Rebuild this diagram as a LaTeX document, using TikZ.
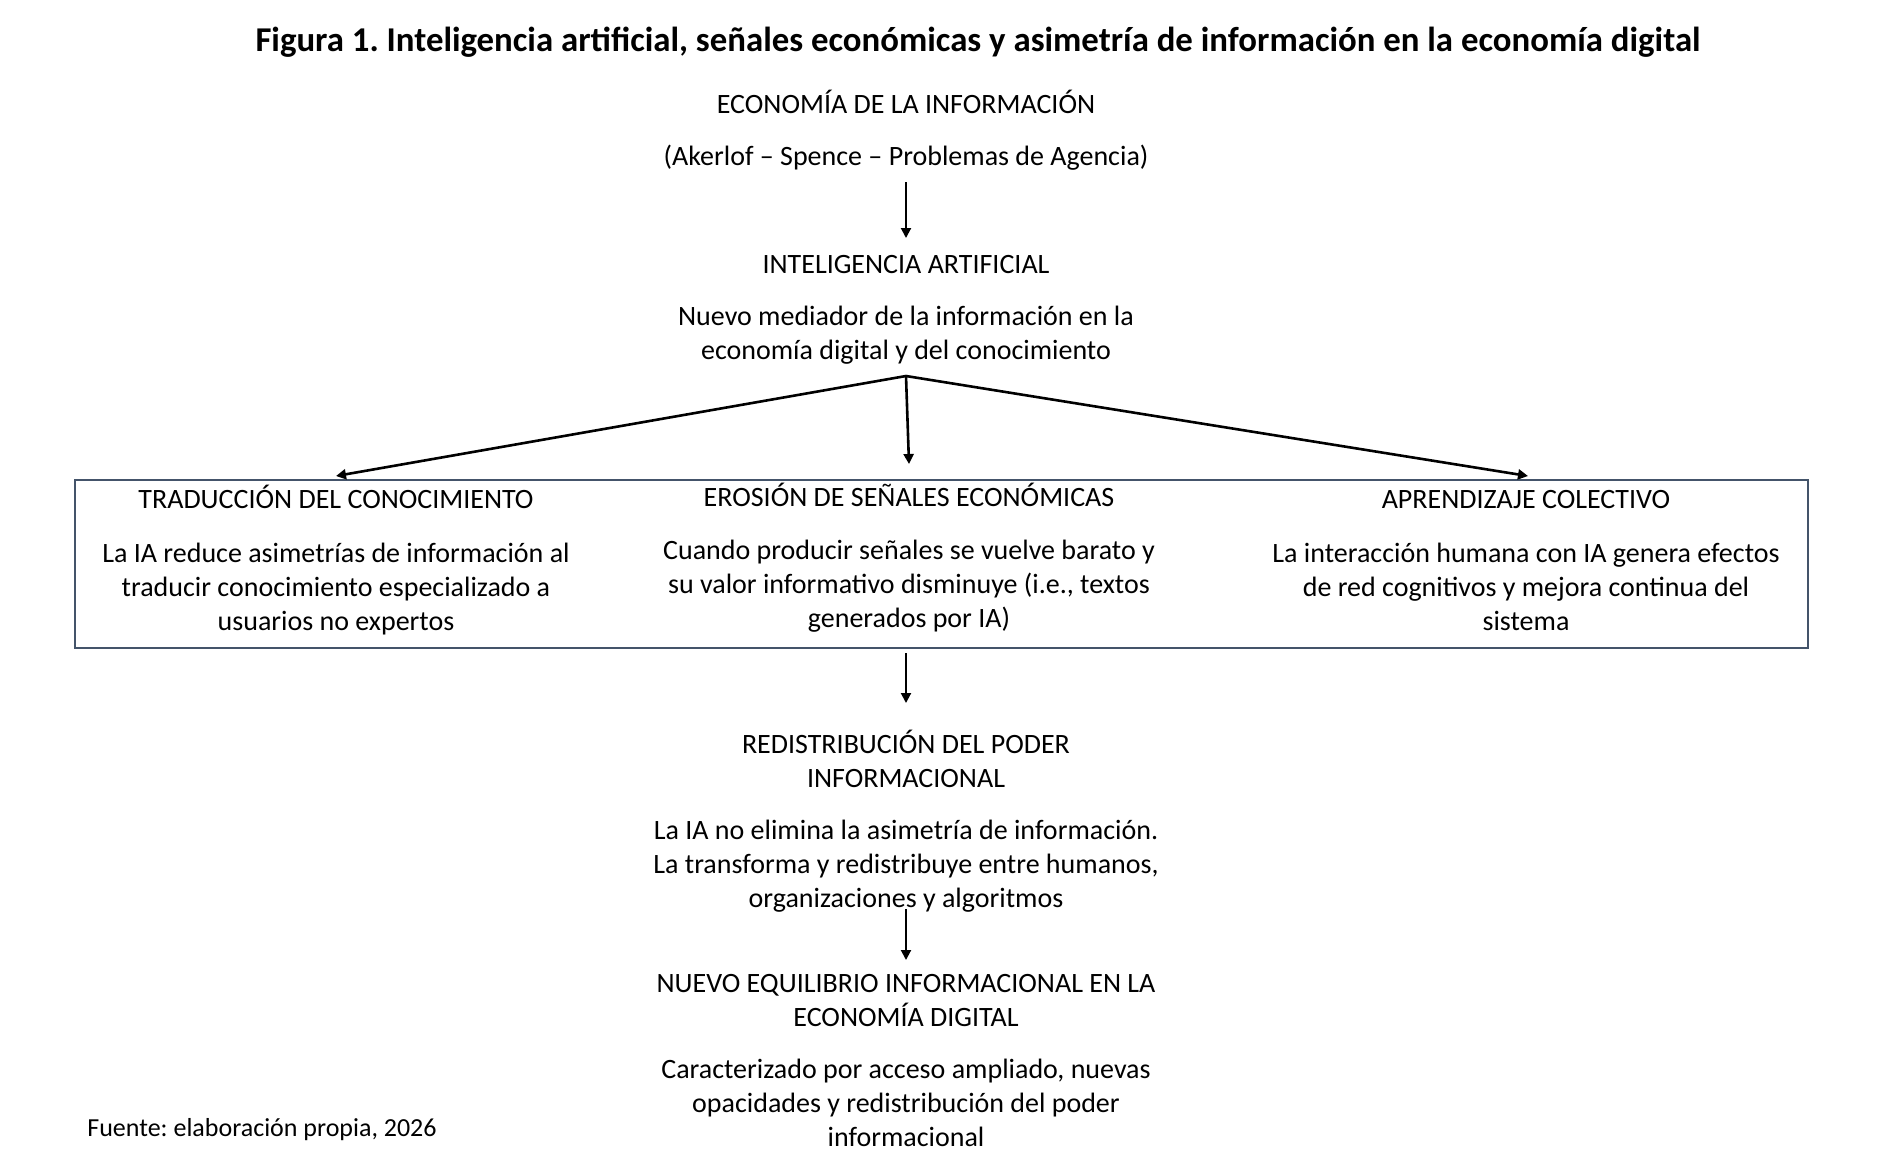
\documentclass[tikz,border=0pt]{standalone}
\usepackage{fontspec}
\setmainfont{Carlito}
\usepackage{tikz}
\usetikzlibrary{arrows.meta,positioning,calc}
\definecolor{PanelSlate}{HTML}{44546A}
\frenchspacing

\begin{document}
\begin{tikzpicture}[
  x=0.5pt, y=-0.5pt,
  txt/.style={inner sep=0pt, anchor=base, align=center, font=\fontsize{14}{17}\selectfont},
  panel/.style={draw=PanelSlate, line width=1pt, minimum width=866.5pt, minimum height=84pt, inner sep=0pt},
  flow/.style={-{Triangle[length=5pt,width=5pt]}, line width=1pt, black},
  fan/.style={flow, line width=1.3pt}
]
\useasboundingbox (0,0) rectangle (1900,1174);
\node[txt, font=\fontsize{17.4}{20}\selectfont\bfseries] (title) at (978,51) {Figura 1. Inteligencia artificial, señales económicas y asimetría de información en la economía digital};
\node[txt] (econ) at (906,113) {ECONOMÍA DE LA INFORMACIÓN};
\node[txt] (akerlof) at (906,165) {(Akerlof – Spence – Problemas de Agencia)};
\node[txt] (ia) at (906,273) {INTELIGENCIA ARTIFICIAL};
\node[txt] (mediador) at (906,359.5) {Nuevo mediador de la información en la\\economía digital y del conocimiento};
\coordinate (fork) at (906,376);
% recuadro con los tres efectos
\node[panel] (box) at (941.5,564) {};
\node[txt] (trad) at (336,508) {TRADUCCIÓN DEL CONOCIMIENTO};
\node[txt] (tradtxt) at (336,630) {La IA reduce asimetrías de información al\\traducir conocimiento especializado a\\usuarios no expertos};
\node[txt] (eros) at (909,506) {EROSIÓN DE SEÑALES ECONÓMICAS};
\node[txt] (erostxt) at (909,627) {Cuando producir señales se vuelve barato y\\su valor informativo disminuye (i.e., textos\\generados por IA)};
\node[txt] (apren) at (1526,508) {APRENDIZAJE COLECTIVO};
\node[txt] (aprentxt) at (1526,630) {La interacción humana con IA genera efectos\\de red cognitivos y mejora continua del\\sistema};
% parte inferior
\node[txt] (redis) at (906,787) {REDISTRIBUCIÓN DEL PODER\\INFORMACIONAL};
\node[txt] (redistxt) at (906,907.5) {La IA no elimina la asimetría de información.\\La transforma y redistribuye entre humanos,\\organizaciones y algoritmos};
\node[txt] (equil) at (906,1026) {NUEVO EQUILIBRIO INFORMACIONAL EN LA\\ECONOMÍA DIGITAL};
\node[txt] (equiltxt) at (906,1146) {Caracterizado por acceso ampliado, nuevas\\opacidades y redistribución del poder\\informacional};
\node[txt, anchor=base west, font=\fontsize{13}{16}\selectfont] (fuente) at (87,1136) {Fuente: elaboración propia, 2026};
\draw[flow] ([yshift=-8.5pt]akerlof.base) -- ([yshift=17.5pt]ia.base);
\draw[fan] (fork) -- ($(box.north -| trad)+(0,-3)$);
\draw[fan] (fork) -- ([yshift=21pt]eros.base);
\draw[fan] (fork) -- ($(box.north -| apren)+(2,-3)$);
\draw[flow] ([yshift=-2pt]box.south -| redis) -- ([yshift=42pt]redis.base);
\draw[flow] ([yshift=-0.75pt]redistxt.base) -- ([yshift=33pt]equil.base);
\end{tikzpicture}
\end{document}
